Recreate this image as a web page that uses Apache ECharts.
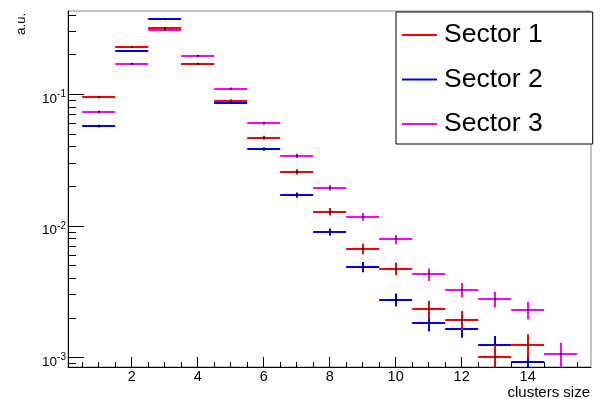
<!DOCTYPE html>
<html><head><meta charset="utf-8">
<script src="https://cdn.jsdelivr.net/npm/echarts@6/dist/echarts.min.js"></script>
<style>html,body{margin:0;padding:0;background:#fff}#c{width:600px;height:399px}</style>
</head><body><div id="c"></div>
<script>
// ---- data ----
const bins = [1, 2, 3, 4, 5, 6, 7, 8, 9, 10, 11, 12, 13, 14, 15];
const sectorNames = ['Sector 1', 'Sector 2', 'Sector 3'];
const sector1 = [0.0954, 0.2288, 0.319, 0.1708, 0.0894, 0.0468, 0.02582, 0.01283, 0.00671, 0.00473, 0.002336, 0.001938, 0.001003, 0.001245, null];
const sector2 = [0.0574, 0.2133, 0.3753, 0.1708, 0.0864, 0.0384, 0.01718, 0.00899, 0.00488, 0.00275, 0.001838, 0.001656, 0.001245, 0.000929, null];
const sector3 = [0.0734, 0.1708, 0.31, 0.1965, 0.1103, 0.0605, 0.03415, 0.01951, 0.01175, 0.0079, 0.00428, 0.003274, 0.002782, 0.002307, 0.001067];
const err1 = [0.0023, 0.0035, 0.0042, 0.0031, 0.0022, 0.0016, 0.0012, 0.00084, 0.00062, 0.00051, 0.00036, 0.00032, 0.00023, 0.00026, null];
const err2 = [0.0014, 0.0028, 0.0037, 0.0025, 0.0018, 0.0012, 0.0008, 0.00057, 0.00043, 0.00031, 0.00026, 0.00024, 0.00021, 0.00018, null];
const err3 = [0.002, 0.003, 0.004, 0.0032, 0.0024, 0.0018, 0.0013, 0.001, 0.00078, 0.00064, 0.00047, 0.00041, 0.00038, 0.00035, 0.00023];
const xTickLabels = [2, 4, 6, 8, 10, 12, 14];
const xMinorTicks = [0.5, 1, 1.5, 2, 2.5, 3, 3.5, 4, 4.5, 5, 5.5, 6, 6.5, 7, 7.5, 8, 8.5, 9, 9.5, 10, 10.5, 11, 11.5, 12, 12.5, 13, 13.5, 14, 14.5, 15, 15.5];
const yTickExponents = [-3, -2, -1];
const yMinorTicks = [0.0009, 0.002, 0.003, 0.004, 0.005, 0.006, 0.007, 0.008, 0.009, 0.02, 0.03, 0.04, 0.05, 0.06, 0.07, 0.08, 0.09, 0.2, 0.3, 0.4];
const xRange = [0.07, 15.92];
const yRange = [0.000847, 0.43];
const colors = ['#ff0000', '#0000ff', '#ff00ff'];
const binWidth = 1;

// ---- helpers ----
const L = Math.log10;
const FONT = 'Liberation Sans, Arial, Helvetica, sans-serif';
function toData(vals, errs) {
  const out = [];
  vals.forEach((v, i) => {
    if (v == null) return;
    const e = errs[i] || 0;
    const lo = v - e > 0 ? L(v - e) : L(yRange[0]) - 1;
    out.push([bins[i], L(v), lo, L(v + e)]);
  });
  return out;
}
function renderItem(params, api) {
  const x = api.value(0), y = api.value(1), lo = api.value(2), hi = api.value(3);
  const pl = api.coord([x - binWidth / 2, y]);
  const pr = api.coord([x + binWidth / 2, y]);
  const pt = api.coord([x, hi]);
  const pb = api.coord([x, lo]);
  const c = api.visual('color');
  const yy = Math.round(pl[1]);
  const xx = Math.round(pt[0]);
  return {
    type: 'group',
    children: [
      { type: 'line', shape: { x1: pl[0], y1: yy, x2: pr[0], y2: yy }, style: { stroke: c, lineWidth: 2 } },
      { type: 'line', shape: { x1: xx, y1: pt[1], x2: xx, y2: pb[1] }, style: { stroke: c, lineWidth: 2 } },
      { type: 'rect', shape: { x: xx - 1, y: yy - 1, width: 2, height: 2 }, style: { fill: '#000' } }
    ]
  };
}
function mkSeries(idx, vals, errs) {
  return {
    name: sectorNames[idx], type: 'custom', clip: true,
    xAxisIndex: 0, yAxisIndex: 0,
    itemStyle: { color: colors[idx] },
    encode: { x: 0, y: [1, 2, 3] },
    renderItem: renderItem,
    data: toData(vals, errs)
  };
}

const chart = echarts.init(document.getElementById('c'), null, { renderer: 'canvas' });
chart.setOption({
  animation: false,
  backgroundColor: '#fff',
  grid: { left: 68, right: 9, top: 11, bottom: 32, show: true, borderColor: '#888', borderWidth: 1, backgroundColor: '#fff' },
  xAxis: [
    { type: 'value', min: xRange[0], max: xRange[1], position: 'bottom',
      axisLine: { show: true, lineStyle: { color: '#000', width: 1 } },
      axisTick: { show: true, inside: true, length: 10, customValues: xTickLabels, lineStyle: { color: '#000', width: 1 } },
      axisLabel: { customValues: xTickLabels, margin: 2, fontSize: 14.5, color: '#000', fontFamily: FONT },
      splitLine: { show: false } },
    { type: 'value', min: xRange[0], max: xRange[1], position: 'bottom',
      axisLine: { show: false },
      axisTick: { show: true, inside: true, length: 5, customValues: xMinorTicks, lineStyle: { color: '#000', width: 1 } },
      axisLabel: { show: false }, splitLine: { show: false } }
  ],
  yAxis: [
    { type: 'value', min: L(yRange[0]), max: L(yRange[1]), position: 'left',
      axisLine: { show: true, lineStyle: { color: '#000', width: 1 } },
      axisTick: { show: true, inside: true, length: 16, customValues: yTickExponents, lineStyle: { color: '#000', width: 1 } },
      axisLabel: { customValues: yTickExponents, margin: 2, padding: [9, 0, 0, 0],
        formatter: v => '{b|10}{s|' + Math.round(v) + '}',
        rich: {
          b: { fontSize: 13.5, color: '#000', fontFamily: FONT },
          s: { fontSize: 10, color: '#000', fontFamily: FONT, padding: [0, 0, 9, 0] }
        } },
      splitLine: { show: false } },
    { type: 'value', min: L(yRange[0]), max: L(yRange[1]), position: 'left',
      axisLine: { show: false },
      axisTick: { show: true, inside: true, length: 8, customValues: yMinorTicks.map(L), lineStyle: { color: '#000', width: 1 } },
      axisLabel: { show: false }, splitLine: { show: false } }
  ],
  legend: {
    data: sectorNames, orient: 'vertical', left: 396, top: 12,
    padding: [8, 50, 5, 6], itemGap: 14.5, itemWidth: 35, itemHeight: 2, icon: 'rect',
    textStyle: { fontSize: 26.5, lineHeight: 30, color: '#000', fontFamily: FONT, padding: [0, 0, 0, 2] },
    borderColor: '#000', borderWidth: 1, borderRadius: 0, backgroundColor: '#fff'
  },
  graphic: [
    { type: 'text', x: 21, y: 13, rotation: Math.PI / 2,
      style: { text: 'a.u.', fontSize: 13, fontFamily: FONT, fill: '#000', textAlign: 'right', textVerticalAlign: 'middle' } },
    { type: 'text', x: 590, y: 393,
      style: { text: 'clusters size', fontSize: 15, fontFamily: FONT, fill: '#000', textAlign: 'right', textVerticalAlign: 'middle' } }
  ],
  series: [
    mkSeries(1, sector2, err2),
    mkSeries(0, sector1, err1),
    mkSeries(2, sector3, err3)
  ]
});
</script>
</body></html>
